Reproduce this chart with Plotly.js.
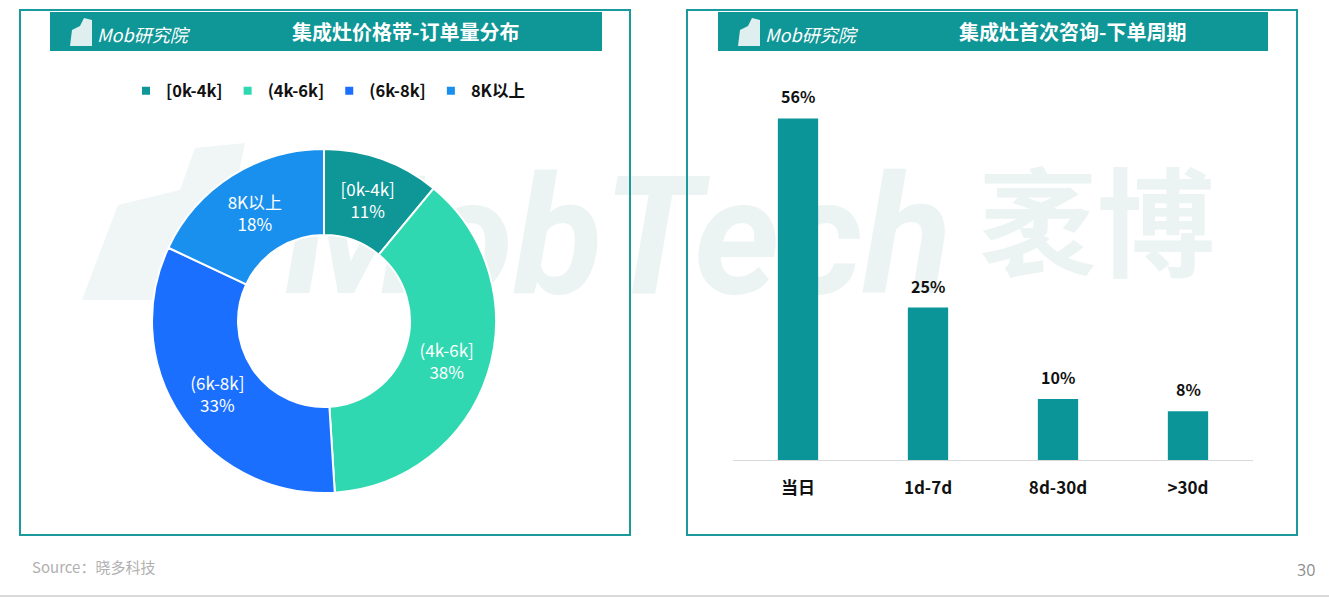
<!DOCTYPE html>
<html>
<head>
<meta charset="utf-8">
<script src="https://cdn.plot.ly/plotly-3.0.1.min.js"></script>
<style>
html,body{margin:0;padding:0;background:#fff;}
#chart{width:1329px;height:597px;}
</style>
</head>
<body>
<div id="chart"></div>
<script>
// ---- data ----
const priceBands = ["[0k-4k]", "(4k-6k]", "(6k-8k]", "8K以上"];
const priceShares = [11, 38, 33, 18];
const priceColors = ["#0f9697", "#2fd8b0", "#1a6fff", "#1990ee"];

const cycleCats = ["当日", "1d-7d", "8d-30d", ">30d"];
const cycleShares = [56, 25, 10, 8];

const leftTitle = "集成灶价格带-订单量分布";
const rightTitle = "集成灶首次咨询-下单周期";
const sourceText = "Source：晓多科技";
const pageNo = "30";

// ---- helpers ----
const W = 1329, H = 597;
const px = x => x / W;
const py = y => 1 - y / H;
const FONT = "Open Sans, Noto Sans CJK SC, sans-serif";
const CJK = "Noto Sans CJK SC, Open Sans, sans-serif";
const TEAL = "#0f9696";
const WM = "#ebf4f2";

const traces = [];

// donut
traces.push({
  type: "pie",
  labels: priceBands,
  values: priceShares,
  hole: 0.5,
  sort: false,
  direction: "clockwise",
  rotation: 0,
  marker: {colors: priceColors, line: {color: "#ffffff", width: 2}},
  texttemplate: "%{label}<br>%{value}%",
  textposition: "inside",
  insidetextorientation: "horizontal",
  textfont: {color: "#ffffff", size: 17, family: CJK},
  domain: {x: [px(152), px(496)], y: [py(493), py(149)]},
  showlegend: false,
  hoverinfo: "skip"
});

// legend entries (square markers matching slice colours)
priceBands.forEach((b, i) => {
  traces.push({
    type: "scatter", mode: "markers",
    x: [null], y: [null],
    name: b,
    marker: {symbol: "square", size: 8, color: priceColors[i]},
    xaxis: "x", yaxis: "y",
    showlegend: true, hoverinfo: "skip"
  });
});

// bars
traces.push({
  type: "bar",
  x: cycleCats,
  y: cycleShares,
  marker: {color: "#0b9599"},
  width: 0.31,
  showlegend: false,
  hoverinfo: "skip"
});

const shapes = [
  // watermark logo building (faint)
  {type: "path", xref: "paper", yref: "paper", layer: "below",
   path: `M ${px(82)} ${py(300)} L ${px(118)} ${py(205)} L ${px(180)} ${py(190)} L ${px(195)} ${py(148)} L ${px(245)} ${py(143)} L ${px(212)} ${py(300)} Z`,
   fillcolor: "#eff6f5", line: {width: 0}},
  // watermark text
  {type: "rect", xref: "paper", yref: "paper", layer: "below",
   x0: px(270), x1: px(966), y0: py(310), y1: py(140),
   fillcolor: "rgba(0,0,0,0)", line: {width: 0},
   label: {text: "<b><i>MobTech</i></b>", font: {size: 164, color: WM, family: "Roboto, Open Sans, sans-serif"}, textposition: "middle center"}},
  {type: "rect", xref: "paper", yref: "paper", layer: "below",
   x0: px(980), x1: px(1214), y0: py(300), y1: py(170),
   fillcolor: "rgba(0,0,0,0)", line: {width: 0},
   label: {text: "<b>袤博</b>", font: {size: 118, color: WM, family: CJK}, textposition: "middle center"}},
  // panel borders
  {type: "rect", xref: "paper", yref: "paper", x0: px(20), x1: px(630), y0: py(535), y1: py(10),
   line: {color: "#1a9a9c", width: 2}, fillcolor: "rgba(0,0,0,0)"},
  {type: "rect", xref: "paper", yref: "paper", x0: px(687), x1: px(1297), y0: py(535), y1: py(10),
   line: {color: "#1a9a9c", width: 2}, fillcolor: "rgba(0,0,0,0)"},
  // title bars
  {type: "rect", xref: "paper", yref: "paper", x0: px(50), x1: px(602), y0: py(51), y1: py(12),
   line: {width: 0}, fillcolor: TEAL},
  {type: "rect", xref: "paper", yref: "paper", x0: px(718), x1: px(1268), y0: py(51), y1: py(12),
   line: {width: 0}, fillcolor: TEAL},
  // mini building icons in title bars
  {type: "path", xref: "paper", yref: "paper",
   path: `M ${px(70)} ${py(46)} L ${px(72)} ${py(30)} L ${px(80)} ${py(26)} L ${px(84)} ${py(18)} L ${px(92)} ${py(20)} L ${px(92)} ${py(46)} Z`,
   fillcolor: "#dfeeee", line: {width: 0}},
  {type: "path", xref: "paper", yref: "paper",
   path: `M ${px(738)} ${py(46)} L ${px(740)} ${py(30)} L ${px(748)} ${py(26)} L ${px(752)} ${py(18)} L ${px(760)} ${py(20)} L ${px(760)} ${py(46)} Z`,
   fillcolor: "#dfeeee", line: {width: 0}},
  // bottom rule
  {type: "line", xref: "paper", yref: "paper", x0: 0, x1: 1, y0: py(596), y1: py(596),
   line: {color: "#d9d9d9", width: 2}}
];

const annotations = [
  {xref: "paper", yref: "paper", x: px(405), y: py(32), text: leftTitle, showarrow: false,
   font: {size: 20, color: "#ffffff", family: CJK, weight: "bold"}, xanchor: "center", yanchor: "middle"},
  {xref: "paper", yref: "paper", x: px(1072), y: py(32), text: rightTitle, showarrow: false,
   font: {size: 20, color: "#ffffff", family: CJK, weight: "bold"}, xanchor: "center", yanchor: "middle"},
  {xref: "paper", yref: "paper", x: px(95), y: py(34), text: "<i>Mob研究院</i>", showarrow: false,
   font: {size: 18, color: "#ffffff", family: CJK}, xanchor: "left", yanchor: "middle"},
  {xref: "paper", yref: "paper", x: px(763), y: py(34), text: "<i>Mob研究院</i>", showarrow: false,
   font: {size: 18, color: "#ffffff", family: CJK}, xanchor: "left", yanchor: "middle"},
  {xref: "paper", yref: "paper", x: px(30), y: py(566), text: sourceText, showarrow: false,
   font: {size: 15, color: "#b0b0b0", family: CJK}, xanchor: "left", yanchor: "middle"},
  {xref: "paper", yref: "paper", x: px(1306), y: py(570), text: pageNo, showarrow: false,
   font: {size: 16, color: "#8c8c8c", family: FONT}, xanchor: "center", yanchor: "middle"}
];

// bar value labels, positioned through the axes
cycleCats.forEach((c, i) => {
  annotations.push({
    xref: "x", yref: "y", x: c, y: cycleShares[i],
    text: cycleShares[i] + "%", showarrow: false,
    xanchor: "center", yanchor: "bottom", yshift: 8,
    font: {size: 16, color: "#111111", family: CJK, weight: "bold"}
  });
});

const layout = {
  width: W, height: H,
  margin: {l: 0, r: 0, t: 0, b: 0},
  paper_bgcolor: "rgba(0,0,0,0)",
  plot_bgcolor: "rgba(0,0,0,0)",
  showlegend: true,
  legend: {
    orientation: "h", x: px(328), xanchor: "center", y: py(91), yanchor: "middle",
    font: {size: 16.5, color: "#111111", family: CJK, weight: "bold"},
    bgcolor: "rgba(0,0,0,0)", itemclick: false, itemdoubleclick: false,
    itemwidth: 30, tracegroupgap: 0
  },
  xaxis: {
    domain: [px(733), px(1253)],
    type: "category",
    categoryorder: "array", categoryarray: cycleCats,
    showline: true, linecolor: "#d9d9d9", linewidth: 1,
    showgrid: false, zeroline: false, ticks: "",
    ticklabelstandoff: 13,
    tickfont: {size: 17, color: "#111111", family: CJK, weight: "bold"},
    fixedrange: true
  },
  yaxis: {
    domain: [py(460), py(94)],
    range: [0, 60],
    visible: false, showgrid: false, zeroline: false, fixedrange: true
  },
  bargap: 0.69,
  shapes: shapes,
  annotations: annotations,
  hovermode: false
};

Plotly.newPlot("chart", traces, layout, {staticPlot: true, displayModeBar: false});
</script>
</body>
</html>
